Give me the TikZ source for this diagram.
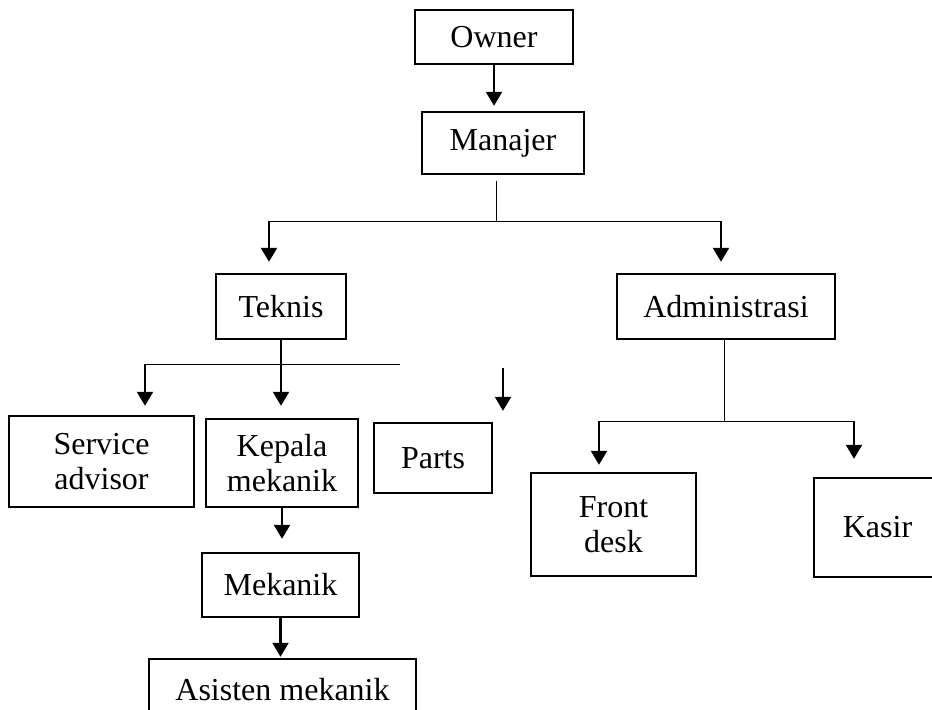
\documentclass[tikz,border=0pt]{standalone}
\usepackage{fontspec}
\setmainfont{Liberation Serif}
\usetikzlibrary{arrows.meta}

\tikzset{
  box/.style={draw, line width=1.2pt, inner sep=0pt, align=center, font=\fontsize{16}{17.5}\selectfont},
  arr/.style={-{Triangle[length=7pt,width=8pt]}, line width=1.1pt},
  link/.style={line width=0.5pt},
}

\begin{document}
\begin{tikzpicture}[x=0.5pt,y=-0.5pt]
            \clip (0,0) rectangle (932,709);
            \fill[white] (0,0) rectangle (932,709);

            \node[box, minimum width=79pt, minimum height=27pt] (owner) at (494,37) {Owner};
            \node[box, minimum width=81pt, minimum height=31pt] (manajer) at (503,143) {Manajer};
            \node[box, minimum width=65pt, minimum height=32.5pt] (teknis) at (281,306.5) {Teknis};
            \node[box, minimum width=109pt, minimum height=32.5pt] (administrasi) at (726,306.5) {Administrasi};
            \node[box, minimum width=92.5pt, minimum height=45.5pt] (service) at (101.5,461.5) {Service\\advisor};
            \node[box, minimum width=76pt, minimum height=44pt] (kepala) at (282,463) {Kepala\\mekanik};
            \node[box, minimum width=59pt, minimum height=35pt] (parts) at (433,458) {Parts};
            \node[box, minimum width=82.5pt, minimum height=51.5pt] (front) at (613.5,524.5) {Front\\desk};
            \node[box, minimum width=63.5pt, minimum height=49.5pt] (kasir) at (877.5,527.5) {Kasir};
            \node[box, minimum width=78.5pt, minimum height=32pt] (mekanik) at (280.5,585) {Mekanik};
            \node[box, minimum width=133.5pt, minimum height=31pt] (asisten) at (282.5,690) {Asisten mekanik};

            \draw[arr, shorten >=2.5pt] (owner.south) -- (owner.south |- manajer.north); % owner

            \coordinate (mjJoin) at (496,221);
            \coordinate (tkArr) at (269,221);
            \coordinate (adArr) at (721,221);
            \draw[link, shorten <=3pt] (manajer.south -| mjJoin) -- (mjJoin); % manajer
            \draw[link] (tkArr) -- (adArr);
            \draw[arr, shorten >=5.5pt] (tkArr) -- (tkArr |- teknis.north);
            \draw[arr, shorten >=5.5pt] (adArr) -- (adArr |- administrasi.north);

            \coordinate (svArr) at (145,364);
            \coordinate (tkEnd) at (400,364);
            \coordinate (ptArr) at (503,368);
            \draw[link] (svArr) -- (tkEnd); % teknis
            \draw[arr, shorten >=6pt] (teknis.south) -- (teknis.south |- kepala.north);
            \draw[arr, shorten >=4.5pt] (svArr) -- (svArr |- service.north);
            \draw[arr, shorten >=5.5pt] (ptArr) -- (ptArr |- parts.north); % parts

            \coordinate (adJoin) at (724,421);
            \coordinate (fdArr) at (599,421);
            \coordinate (ksArr) at (854,421);
            \draw[link] (administrasi.south -| adJoin) -- (adJoin); % administrasi
            \draw[link] (fdArr) -- (ksArr);
            \draw[arr, shorten >=3.5pt] (fdArr) -- (fdArr |- front.north);
            \draw[arr, shorten >=9pt] (ksArr) -- (ksArr |- kasir.north);

            \draw[arr, shorten >=6.5pt] (kepala.south) -- (kepala.south |- mekanik.north); % kepala mekanik
            \draw[arr, shorten >=0.5pt] (mekanik.south) -- (mekanik.south |- asisten.north); % mekanik

        \end{tikzpicture}
\end{document}
